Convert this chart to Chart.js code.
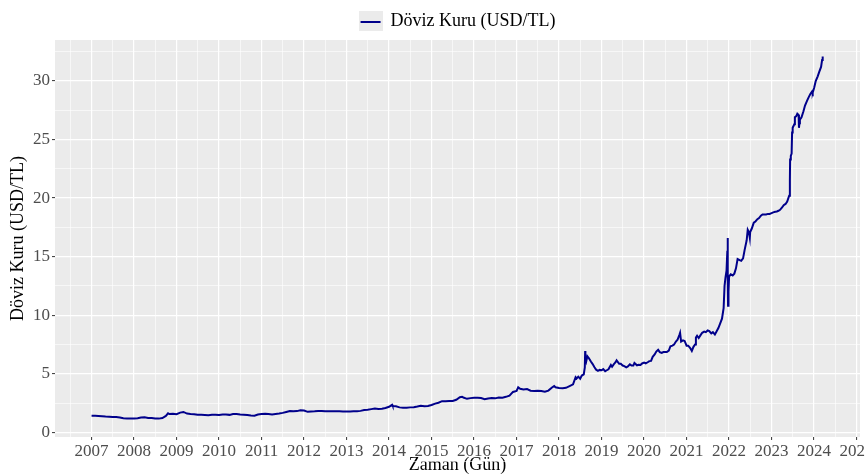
<!DOCTYPE html>
<html>
<head>
<meta charset="utf-8">
<script src="https://cdn.jsdelivr.net/npm/chart.js@4.4.1/dist/chart.umd.min.js"></script>
<style>
  html, body { margin: 0; padding: 0; background: #fff; overflow: hidden; }
  #wrap { width: 866px; height: 474px; overflow: hidden; }
</style>
</head>
<body>
<div id="wrap"><canvas id="c" width="900" height="474"></canvas></div>
<script>
// USD/TL daily rate, sampled by eye from the reference
var dates = [
  '2007-01-01','2007-02-01','2007-03-01','2007-04-01','2007-05-01','2007-06-01','2007-07-01','2007-08-01','2007-09-01','2007-10-01','2007-11-01','2007-12-01',
  '2008-01-01','2008-02-01','2008-03-01','2008-04-01','2008-05-01','2008-06-01','2008-07-01','2008-08-01','2008-09-01','2008-10-01','2008-10-20','2008-11-01','2008-12-01',
  '2009-01-01','2009-02-01','2009-03-01','2009-04-01','2009-05-01','2009-06-01','2009-07-01','2009-08-01','2009-09-01','2009-10-01','2009-11-01','2009-12-01',
  '2010-01-01','2010-02-01','2010-03-01','2010-04-01','2010-05-01','2010-06-01','2010-07-01','2010-08-01','2010-09-01','2010-10-01','2010-11-01','2010-12-01',
  '2011-01-01','2011-02-01','2011-03-01','2011-04-01','2011-05-01','2011-06-01','2011-07-01','2011-08-01','2011-09-01','2011-10-01','2011-11-01','2011-12-01',
  '2012-01-01','2012-02-01','2012-03-01','2012-04-01','2012-05-01','2012-06-01','2012-07-01','2012-08-01','2012-09-01','2012-10-01','2012-11-01','2012-12-01',
  '2013-01-01','2013-02-01','2013-03-01','2013-04-01','2013-05-01','2013-06-01','2013-07-01','2013-08-01','2013-09-01','2013-10-01','2013-11-01','2013-12-01',
  '2014-01-01','2014-01-27','2014-02-01','2014-03-01','2014-04-01','2014-05-01','2014-06-01','2014-07-01','2014-08-01','2014-09-01','2014-10-01','2014-11-01','2014-12-01',
  '2015-01-01','2015-02-01','2015-03-01','2015-04-01','2015-05-01','2015-06-01','2015-07-01','2015-08-01','2015-09-01','2015-09-20','2015-10-01','2015-11-01','2015-12-01',
  '2016-01-01','2016-02-01','2016-03-01','2016-04-01','2016-05-01','2016-06-01','2016-07-01','2016-08-01','2016-09-01','2016-10-01','2016-11-01','2016-12-01',
  '2017-01-01','2017-01-15','2017-02-01','2017-03-01','2017-04-01','2017-05-01','2017-06-01','2017-07-01','2017-08-01','2017-09-01','2017-10-01','2017-11-01','2017-11-20','2017-12-01',
  '2018-01-01','2018-02-01','2018-03-01','2018-04-01','2018-05-01','2018-05-23','2018-06-01','2018-06-15','2018-07-01','2018-07-15','2018-08-01','2018-08-10','2018-08-13','2018-08-15','2018-08-22',
  '2018-09-01','2018-09-13','2018-10-01','2018-10-15','2018-11-01','2018-11-15','2018-12-01','2018-12-15',
  '2019-01-01','2019-01-15','2019-02-01','2019-02-15','2019-03-01','2019-03-22','2019-04-01','2019-04-15','2019-05-01','2019-05-10','2019-06-01','2019-06-15',
  '2019-07-01','2019-07-15','2019-08-01','2019-08-15','2019-09-01','2019-09-15','2019-10-01','2019-10-10','2019-11-01','2019-11-15','2019-12-01','2019-12-15',
  '2020-01-01','2020-01-15','2020-02-01','2020-02-15','2020-03-01','2020-03-15','2020-04-01','2020-04-15','2020-05-01','2020-05-15','2020-06-01','2020-06-15',
  '2020-07-01','2020-07-15','2020-08-01','2020-08-15','2020-09-01','2020-09-15','2020-10-01','2020-10-15','2020-11-01','2020-11-06','2020-11-15','2020-12-01','2020-12-15',
  '2021-01-01','2021-01-15','2021-02-01','2021-02-15','2021-03-01','2021-03-15','2021-03-22','2021-04-01','2021-04-15','2021-05-01','2021-05-15','2021-06-01','2021-06-15',
  '2021-07-01','2021-07-15','2021-08-01','2021-08-15','2021-09-01','2021-09-15','2021-10-01','2021-10-15','2021-11-01','2021-11-15','2021-11-23',
  '2021-12-01','2021-12-10','2021-12-17','2021-12-20','2021-12-21','2021-12-23','2021-12-27',
  '2022-01-01','2022-01-15','2022-02-01','2022-02-15','2022-03-01','2022-03-15','2022-04-01','2022-04-15','2022-05-01','2022-05-15','2022-06-01','2022-06-10','2022-06-20','2022-06-28',
  '2022-07-01','2022-07-15','2022-08-01','2022-08-15','2022-09-01','2022-09-15','2022-10-01','2022-10-15','2022-11-01','2022-11-15','2022-12-01','2022-12-15',
  '2023-01-01','2023-01-15','2023-02-01','2023-02-15','2023-03-01','2023-03-15','2023-04-01','2023-04-15','2023-05-01','2023-05-15','2023-06-01','2023-06-07','2023-06-09','2023-06-15','2023-06-22','2023-06-26',
  '2023-07-01','2023-07-15','2023-07-20','2023-08-01','2023-08-10','2023-08-21','2023-08-24','2023-08-28','2023-09-01','2023-09-15','2023-10-01','2023-10-15','2023-11-01','2023-11-15','2023-12-01','2023-12-15','2023-12-20',
  '2024-01-01','2024-01-15','2024-02-01','2024-02-15','2024-03-01','2024-03-10','2024-03-15'
];
var rates = [
  1.42,1.41,1.40,1.38,1.35,1.33,1.30,1.31,1.27,1.20,1.19,1.17,
  1.18,1.20,1.27,1.28,1.23,1.22,1.18,1.17,1.22,1.40,1.62,1.56,1.58,
  1.55,1.68,1.74,1.60,1.56,1.55,1.50,1.49,1.48,1.46,1.49,1.50,
  1.48,1.52,1.53,1.49,1.56,1.57,1.52,1.51,1.48,1.43,1.41,1.52,
  1.56,1.59,1.57,1.52,1.57,1.61,1.66,1.74,1.82,1.80,1.81,1.89,
  1.86,1.75,1.78,1.79,1.82,1.82,1.80,1.79,1.79,1.79,1.80,1.78,
  1.77,1.78,1.80,1.80,1.83,1.90,1.93,1.98,2.03,1.99,2.02,2.08,
  2.18,2.35,2.24,2.22,2.13,2.10,2.09,2.13,2.15,2.20,2.27,2.23,2.25,
  2.33,2.45,2.53,2.66,2.66,2.67,2.68,2.78,3.00,3.04,2.97,2.86,2.92,
  2.95,2.96,2.93,2.83,2.89,2.92,2.90,2.98,2.96,3.03,3.13,3.45,
  3.53,3.85,3.72,3.65,3.70,3.55,3.53,3.55,3.52,3.46,3.56,3.83,3.95,3.85,
  3.79,3.76,3.80,3.95,4.10,4.70,4.60,4.75,4.58,4.85,4.95,5.55,6.95,6.30,6.05,
  6.50,6.35,6.05,5.85,5.55,5.35,5.25,5.33,
  5.30,5.40,5.22,5.30,5.38,5.75,5.60,5.80,5.98,6.15,5.85,5.85,
  5.70,5.65,5.55,5.62,5.80,5.70,5.70,5.92,5.72,5.76,5.75,5.88,
  5.95,5.88,5.98,6.08,6.10,6.45,6.65,6.90,7.05,6.85,6.78,6.85,
  6.86,6.85,6.98,7.35,7.40,7.50,7.75,7.90,8.35,8.50,7.75,7.85,7.80,
  7.40,7.40,7.20,6.95,7.30,7.50,8.10,8.25,8.05,8.30,8.50,8.60,8.55,
  8.70,8.65,8.45,8.55,8.35,8.60,8.90,9.25,9.70,10.60,12.50,
  13.20,13.80,15.50,16.60,13.00,10.80,12.00,
  13.30,13.50,13.40,13.55,14.00,14.80,14.70,14.65,14.85,15.60,16.40,17.30,17.10,16.60,
  17.10,17.40,17.90,18.00,18.20,18.30,18.50,18.60,18.60,18.60,18.65,18.65,
  18.72,18.78,18.83,18.86,18.92,19.00,19.20,19.40,19.50,19.70,20.20,21.50,23.30,23.60,23.80,25.60,
  26.00,26.30,26.90,27.00,27.20,27.10,26.00,26.40,26.70,26.90,27.40,27.90,28.30,28.60,28.90,29.10,29.00,
  29.40,30.00,30.40,30.80,31.20,31.80,32.10
];
var yearTicks = [2007,2008,2009,2010,2011,2012,2013,2014,2015,2016,2017,2018,2019,2020,2021,2022,2023,2024,2025];
var rateTicks = [0,5,10,15,20,25,30];

function toYear(s) {
  var p = s.split('-').map(Number);
  var t0 = Date.UTC(p[0], 0, 1), t1 = Date.UTC(p[0] + 1, 0, 1);
  return p[0] + (Date.UTC(p[0], p[1] - 1, p[2]) - t0) / (t1 - t0);
}

// add a minor tick halfway between each pair of majors (ggplot style)
function withMinors(major, step) {
  var out = [{value: major[0] - step / 2, minor: true}];
  major.forEach(function(v) {
    out.push({value: v, minor: false});
    out.push({value: v + step / 2, minor: true});
  });
  return out;
}

var points = dates.map(function(d, i) { return {x: toYear(d), y: rates[i]}; });

// legend key: grey square with the series line through it
var key = document.createElement('canvas');
key.width = 24; key.height = 20;
(function(k) {
  k.fillStyle = '#ebebeb'; k.fillRect(0, 0, 24, 20);
  k.strokeStyle = '#00008b'; k.lineWidth = 2;
  k.beginPath(); k.moveTo(2, 11); k.lineTo(22, 11); k.stroke();
})(key.getContext('2d'));

var panelBg = {
  id: 'panelBg',
  beforeDraw: function(chart) {
    var a = chart.chartArea, ctx = chart.ctx;
    ctx.save();
    ctx.fillStyle = '#ebebeb';
    ctx.fillRect(a.left, a.top, a.right - a.left, a.bottom - a.top);
    ctx.restore();
  }
};

var serif = "'Liberation Serif', 'DejaVu Serif', serif";
var gridW = function(c) { return c.tick && c.tick.minor ? 0.6 : 1.2; };
var tickC = function(c) { return c.tick && c.tick.minor ? 'rgba(0,0,0,0)' : '#333333'; };

new Chart(document.getElementById('c'), {
  type: 'line',
  data: {
    datasets: [{
      label: 'Döviz Kuru (USD/TL)',
      data: points,
      borderColor: '#00008b',
      backgroundColor: '#00008b',
      borderWidth: 2,
      pointRadius: 0,
      tension: 0,
      pointStyle: key
    }]
  },
  options: {
    responsive: false,
    animation: false,
    devicePixelRatio: 1,
    layout: { padding: { left: 0, right: 40, top: 0, bottom: 0 } },
    plugins: {
      tooltip: { enabled: false },
      legend: {
        position: 'top',
        fullSize: false,
        labels: {
          usePointStyle: true,
          pointStyleWidth: 22,
          boxHeight: 20,
          padding: 12,
          color: '#000',
          font: { family: serif, size: 18 }
        }
      }
    },
    scales: {
      x: {
        type: 'linear',
        min: 2006.14,
        max: 2025.08,
        afterBuildTicks: function(s) { s.ticks = withMinors(yearTicks, 1); },
        afterFit: function(s) { s.height = 37; },
        border: { display: false },
        grid: { color: '#ffffff', lineWidth: gridW, tickColor: tickC, tickLength: 3, tickWidth: 1 },
        ticks: {
          autoSkip: false, maxRotation: 0, padding: 1,
          color: '#4d4d4d', font: { family: serif, size: 17 },
          callback: function(v) { return Number.isInteger(v) ? String(v) : ''; }
        },
        title: {
          display: true, text: 'Zaman (Gün)', color: '#000',
          font: { family: serif, size: 18, lineHeight: 1 }, padding: { top: 0, bottom: 0 }
        }
      },
      y: {
        type: 'linear',
        min: -0.4,
        max: 33.5,
        afterBuildTicks: function(s) { s.ticks = withMinors(rateTicks, 5); },
        afterFit: function(s) { s.width = 55; },
        border: { display: false },
        grid: { color: '#ffffff', lineWidth: gridW, tickColor: tickC, tickLength: 3, tickWidth: 1 },
        ticks: {
          autoSkip: false, padding: 2,
          color: '#4d4d4d', font: { family: serif, size: 17 },
          callback: function(v) { return Number.isInteger(v) ? String(v) : ''; }
        },
        title: {
          display: true, text: 'Döviz Kuru (USD/TL)', color: '#000',
          font: { family: serif, size: 18, lineHeight: 1 }, padding: { top: 9, bottom: 0 }
        }
      }
    }
  },
  plugins: [panelBg]
});
</script>
</body>
</html>
